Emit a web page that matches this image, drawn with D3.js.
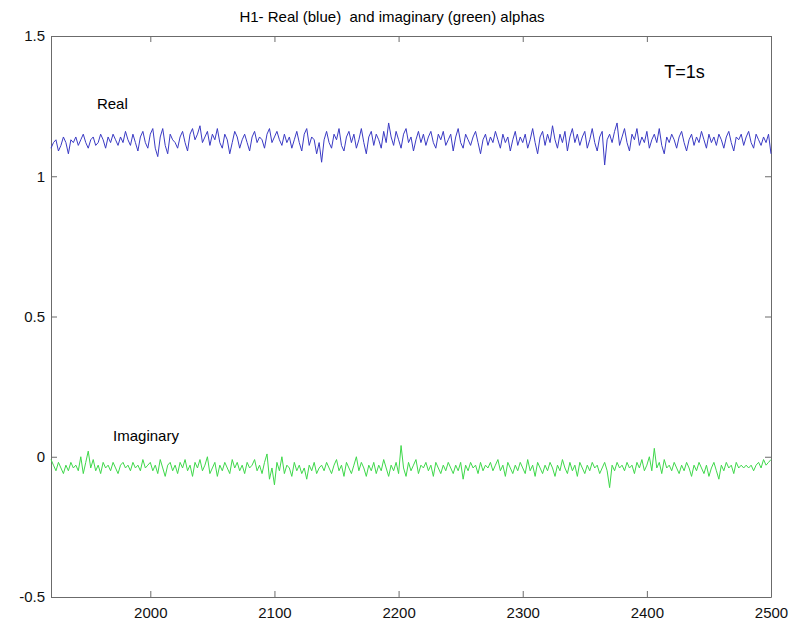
<!DOCTYPE html>
<html>
<head>
<meta charset="utf-8">
<script src="https://cdn.jsdelivr.net/npm/d3@7"></script>
<style>
  body { margin: 0; background: #fff; }
  svg { font-family: "Liberation Sans", Arial, sans-serif; }
  .axis path, .axis line { stroke: #6b6b6b; }
  .axis text { fill: #111; font-size: 15px; }
</style>
</head>
<body>
<svg width="808" height="624"></svg>
<script>
// samples every 2 units, 1920..2500
const xStart = 1920, xStep = 2;

const realValues = [
  1.10,1.12,1.13,1.09,1.11,1.14,1.12,1.08,1.13,1.12,
  1.14,1.11,1.13,1.15,1.12,1.10,1.13,1.14,1.11,1.12,
  1.15,1.13,1.10,1.14,1.12,1.15,1.13,1.11,1.14,1.12,
  1.16,1.13,1.11,1.15,1.12,1.09,1.14,1.16,1.12,1.10,
  1.15,1.17,1.10,1.07,1.14,1.17,1.11,1.08,1.15,1.13,
  1.12,1.10,1.14,1.16,1.12,1.09,1.15,1.17,1.13,1.15,
  1.18,1.12,1.14,1.16,1.11,1.15,1.13,1.17,1.12,1.10,
  1.15,1.13,1.08,1.12,1.16,1.14,1.10,1.13,1.15,1.12,
  1.09,1.14,1.16,1.12,1.14,1.13,1.10,1.15,1.17,1.12,
  1.14,1.16,1.13,1.11,1.15,1.12,1.14,1.10,1.13,1.16,
  1.12,1.09,1.15,1.17,1.11,1.14,1.13,1.08,1.12,1.05,
  1.13,1.16,1.12,1.10,1.15,1.13,1.17,1.11,1.09,1.14,
  1.16,1.12,1.15,1.10,1.13,1.17,1.12,1.08,1.14,1.16,
  1.11,1.15,1.13,1.10,1.16,1.12,1.19,1.14,1.11,1.16,
  1.13,1.10,1.15,1.17,1.12,1.14,1.09,1.13,1.16,1.12,
  1.15,1.11,1.14,1.16,1.12,1.10,1.15,1.13,1.16,1.11,
  1.13,1.15,1.09,1.14,1.17,1.12,1.10,1.15,1.13,1.11,
  1.14,1.16,1.12,1.08,1.13,1.15,1.11,1.14,1.12,1.16,
  1.13,1.10,1.15,1.12,1.14,1.09,1.13,1.16,1.11,1.14,
  1.12,1.15,1.10,1.13,1.17,1.12,1.08,1.14,1.16,1.11,
  1.15,1.12,1.18,1.13,1.10,1.15,1.12,1.16,1.09,1.14,
  1.17,1.12,1.15,1.11,1.14,1.16,1.10,1.13,1.17,1.12,
  1.09,1.14,1.16,1.04,1.13,1.15,1.12,1.16,1.19,1.11,
  1.14,1.17,1.12,1.09,1.15,1.13,1.17,1.11,1.14,1.12,
  1.16,1.10,1.13,1.15,1.12,1.17,1.11,1.08,1.14,1.12,
  1.15,1.13,1.10,1.14,1.16,1.12,1.09,1.13,1.15,1.11,
  1.14,1.12,1.16,1.13,1.10,1.15,1.12,1.14,1.11,1.15,
  1.13,1.10,1.14,1.16,1.12,1.09,1.14,1.13,1.15,1.11,
  1.14,1.16,1.12,1.10,1.15,1.13,1.11,1.14,1.12,1.15,
  1.08
];

const imagValues = [
  -0.01,-0.03,-0.05,-0.02,-0.04,-0.06,-0.03,-0.05,-0.02,-0.04,
  -0.03,-0.05,0.00,-0.06,-0.02,0.02,-0.04,-0.01,-0.05,-0.03,
  -0.06,-0.02,-0.04,-0.03,-0.05,-0.02,-0.04,-0.06,-0.03,-0.02,
  -0.04,-0.03,-0.05,-0.02,-0.04,-0.03,-0.05,-0.01,-0.04,-0.03,
  -0.02,-0.05,-0.03,-0.06,-0.01,-0.04,-0.07,-0.03,-0.02,-0.05,
  -0.03,-0.06,-0.02,-0.04,-0.01,-0.05,-0.03,-0.07,-0.02,-0.04,
  -0.01,-0.05,-0.03,0.00,-0.06,-0.04,-0.02,-0.07,-0.03,-0.05,
  -0.02,-0.04,-0.06,-0.01,-0.04,-0.02,-0.05,-0.03,-0.06,-0.02,
  -0.04,-0.03,-0.01,-0.05,-0.03,-0.06,-0.02,0.01,-0.08,-0.04,
  -0.10,-0.02,-0.05,0.00,-0.06,-0.03,-0.04,-0.07,-0.02,-0.05,
  -0.03,-0.06,-0.04,-0.08,-0.03,-0.05,-0.02,-0.06,-0.04,-0.03,
  -0.05,-0.02,-0.04,-0.06,-0.03,-0.01,-0.05,-0.03,-0.07,-0.02,
  -0.04,-0.06,-0.03,0.00,-0.05,-0.02,-0.04,-0.07,-0.03,-0.05,
  -0.02,-0.06,-0.03,-0.05,-0.01,-0.04,-0.07,-0.03,-0.05,-0.02,
  -0.06,0.04,-0.04,-0.07,-0.02,-0.05,-0.03,-0.01,-0.06,-0.03,
  -0.04,-0.02,-0.05,-0.03,-0.07,-0.02,-0.04,-0.06,-0.03,-0.05,
  -0.02,-0.04,-0.06,-0.03,-0.05,-0.02,-0.08,-0.03,-0.05,-0.02,
  -0.04,-0.03,-0.06,-0.02,-0.05,-0.03,-0.04,-0.02,-0.05,-0.03,
  -0.01,-0.05,-0.03,-0.07,-0.02,-0.04,-0.06,-0.03,-0.05,-0.02,
  -0.04,-0.06,-0.01,-0.05,-0.03,-0.07,-0.02,-0.04,-0.06,-0.03,
  -0.05,-0.02,-0.04,-0.07,-0.03,-0.05,-0.01,-0.04,-0.06,-0.02,
  -0.05,-0.03,-0.07,-0.02,-0.04,-0.06,-0.03,-0.05,-0.02,-0.04,
  -0.03,-0.06,-0.04,-0.02,-0.05,-0.11,-0.03,-0.05,-0.02,-0.04,
  -0.03,-0.05,-0.02,-0.04,-0.03,-0.06,-0.02,-0.04,-0.01,-0.05,
  -0.03,0.00,-0.05,0.03,-0.04,-0.02,-0.06,-0.01,-0.04,-0.03,
  -0.05,-0.02,-0.04,-0.06,-0.03,-0.05,-0.02,-0.04,-0.07,-0.03,
  -0.05,-0.02,-0.04,-0.06,-0.03,-0.07,-0.04,-0.02,-0.05,-0.08,
  -0.03,-0.05,-0.02,-0.04,-0.03,-0.06,-0.02,-0.04,-0.03,-0.04,
  -0.03,-0.04,-0.03,-0.05,-0.03,-0.02,-0.04,-0.01,-0.03,-0.02,
  -0.01
];

const xTicks = [2000, 2100, 2200, 2300, 2400, 2500];
const yTicks = [-0.5, 0, 0.5, 1, 1.5];

const svg = d3.select("svg"),
  margin = { top: 36, right: 37, bottom: 27, left: 51 },
  width = +svg.attr("width") - margin.left - margin.right,
  height = +svg.attr("height") - margin.top - margin.bottom,
  g = svg
    .append("g")
    .attr("transform", `translate(${margin.left},${margin.top})`);

const x = d3.scaleLinear().domain([1920, 2500]).range([0, width]);
const y = d3.scaleLinear().domain([-0.5, 1.5]).range([height, 0]);

const fmt = (d) => String(d);

// box axes, ticks pointing inward (matlab style)
g.append("g")
  .attr("class", "axis")
  .attr("transform", `translate(0,${height})`)
  .call(d3.axisBottom(x).tickValues(xTicks).tickFormat(fmt).tickSizeInner(-6).tickSizeOuter(0).tickPadding(10));

g.append("g")
  .attr("class", "axis")
  .call(d3.axisTop(x).tickValues(xTicks).tickFormat("").tickSizeInner(-6).tickSizeOuter(0));

g.append("g")
  .attr("class", "axis")
  .call(d3.axisLeft(y).tickValues(yTicks).tickFormat(fmt).tickSizeInner(-6).tickSizeOuter(0).tickPadding(6));

g.append("g")
  .attr("class", "axis")
  .attr("transform", `translate(${width},0)`)
  .call(d3.axisRight(y).tickValues(yTicks).tickFormat("").tickSizeInner(-6).tickSizeOuter(0));

const line = d3
  .line()
  .x((d, i) => x(xStart + i * xStep))
  .y((d) => y(d));

g.append("path")
  .datum(realValues)
  .attr("fill", "none")
  .attr("stroke", "#3a3ac4")
  .attr("stroke-width", 1)
  .attr("d", line);

g.append("path")
  .datum(imagValues)
  .attr("fill", "none")
  .attr("stroke", "#3ed84a")
  .attr("stroke-width", 1)
  .attr("d", line);

svg.append("text")
  .attr("x", 392)
  .attr("y", 22)
  .attr("text-anchor", "middle")
  .style("font-size", "15px")
  .style("white-space", "pre")
  .text("H1- Real (blue)  and imaginary (green) alphas");

g.append("text")
  .attr("x", x(1957))
  .attr("y", y(1.24))
  .style("font-size", "15px")
  .text("Real");

g.append("text")
  .attr("x", x(1970))
  .attr("y", y(0.055))
  .style("font-size", "15px")
  .text("Imaginary");

g.append("text")
  .attr("x", x(2414))
  .attr("y", y(1.35))
  .style("font-size", "18px")
  .text("T=1s");
</script>
</body>
</html>
